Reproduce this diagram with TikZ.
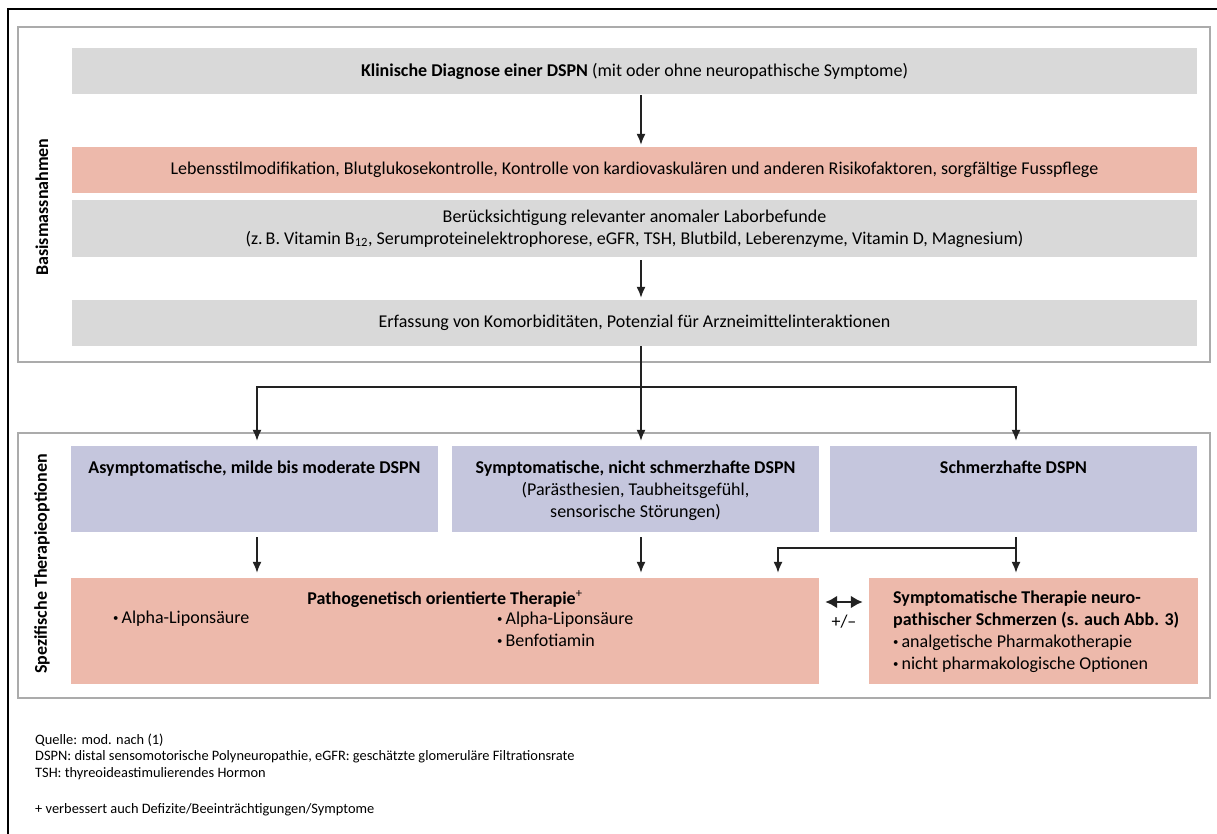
\documentclass[tikz,border=0pt]{standalone}
\usepackage{fontspec}
\setmainfont{Carlito}
\usetikzlibrary{positioning,arrows.meta,calc}
\definecolor{graufill}{HTML}{D9D9D9}
\definecolor{lachs}{HTML}{EDB9AB}
\definecolor{lila}{HTML}{C5C6DD}
\definecolor{rahmen}{HTML}{ABABAB}
\definecolor{pfeil}{HTML}{222222}
\newcommand{\pkt}{\raisebox{0.12em}{\scalebox{0.6}{\textbullet}}\,}

\begin{document}
\begin{tikzpicture}[x=1pt,y=-1pt,>={Latex[length=11pt,width=9pt]},
      font=\fontsize{18}{22}\selectfont,
      grau/.style={fill=graufill,minimum width=1125pt,minimum height=46pt,inner sep=0pt,align=center},
      lilabox/.style={fill=lila,minimum width=367pt,minimum height=86pt,inner sep=0pt},
      lachsbox/.style={fill=lachs,minimum height=106pt,inner sep=0pt},
      frame/.style={draw=rahmen,line width=2pt},
      seite/.style={rotate=90,font=\fontsize{18}{22}\selectfont\bfseries},
      titel/.style={anchor=north,align=center,inner sep=0pt},
      fuss/.style={anchor=west,inner sep=0pt,font=\fontsize{14.4}{17}\selectfont},
      pf/.style={->,draw=pfeil,line width=1.4pt}]
      \useasboundingbox (0,0) rectangle (1217,834);
      \draw[black,line width=1.2pt] (8,834) -- (8,9) -- (1217,9);

      \draw[frame] (18,27) rectangle (1210,362);
      \draw[frame] (18,433) rectangle (1210,698);
      \node[seite] (basis) at (42,207) {Basismassnahmen};
      \node[seite] (spez) at (42,564) {Spezifische Therapieoptionen};

      \coordinate (colA) at (257,0);
      \coordinate (colB) at (641,0);
      \coordinate (colC) at (1016,0);
      \coordinate (colD) at (778,0);
      \coordinate (split) at (641,387);
      \coordinate (fork) at (1016,548);
      \coordinate (pm) at (844,602);

      \node[grau] (diag) at (634.5,71) {\textbf{Klinische Diagnose einer DSPN} (mit oder ohne neuropathische Symptome)};
      \node[grau,fill=lachs] (life) at (634.5,170) {Lebensstilmodifikation, Blutglukosekontrolle, Kontrolle von kardiovaskulären und anderen Risikofaktoren, sorgfältige Fusspflege};
      \node[grau,minimum height=57pt] (lab) at (634.5,228.5) {Berücksichtigung relevanter anomaler Laborbefunde\\(z.\,B. Vitamin B\textsubscript{12}, Serumproteinelektrophorese, eGFR, TSH, Blutbild, Leberenzyme, Vitamin D, Magnesium)};
      \node[grau] (komorb) at (634.5,323) {Erfassung von Komorbiditäten, Potenzial für Arzneimittelinteraktionen};

      \node[lilabox] (asym) at (254.5,489) {};
      \node[lilabox] (symnp) at (635.5,489) {};
      \node[lilabox] (schm) at (1013.5,489) {};
      \node[titel,below=15pt of asym.north] (asymtxt) {\textbf{Asymptomatische, milde bis moderate DSPN}};
      \node[titel,below=15pt of symnp.north] (symnptxt) {\textbf{Symptomatische, nicht schmerzhafte DSPN}\\(Parästhesien, Taubheitsgefühl,\\sensorische Störungen)};
      \node[titel,below=15pt of schm.north] (schmtxt) {\textbf{Schmerzhafte DSPN}};

      \node[lachsbox,minimum width=748pt] (patho) at (445,631) {};
      \node[lachsbox,minimum width=329pt] (symth) at (1033.5,631) {};
      \node[titel,below=13pt of patho.north] (pathotxt) {\textbf{Pathogenetisch orientierte Therapie}\textsuperscript{+}};
      \node[anchor=west,inner sep=0pt] (alaA) at (113,619) {\pkt Alpha-Liponsäure};
      \node[anchor=north west,inner sep=0pt,align=left] (alaB) at (497,612) {\pkt Alpha-Liponsäure\\\pkt Benfotiamin};
      \node[anchor=north west,inner sep=0pt,align=left] (symthtxt) at (893,591) {\textbf{Symptomatische Therapie neuro-}\\\textbf{pathischer Schmerzen (s. auch Abb. 3)}\\\pkt analgetische Pharmakotherapie\\\pkt nicht pharmakologische Optionen};

      \draw[pf,shorten <=1pt,shorten >=2pt] (diag.south -| colB) -- (colB |- life.north);
      \draw[pf,shorten <=3pt,shorten >=2pt] (lab.south -| colB) -- (colB |- komorb.north);
      \draw[draw=pfeil,line width=1.4pt] (komorb.south -| split) -- (split);
      \draw[pf,shorten >=5pt] (split) -| (colA |- asym.north);
      \draw[pf,shorten >=5pt] (split) -- (colB |- symnp.north);
      \draw[pf,shorten >=5pt] (split) -| (colC |- schm.north);
      \draw[pf,shorten <=5pt,shorten >=5pt] (asym.south -| colA) -- (colA |- patho.north);
      \draw[pf,shorten <=5pt,shorten >=5pt] (symnp.south -| colB) -- (colB |- patho.north);
      \draw[pf,shorten <=5pt,shorten >=5pt] (schm.south -| colC) -- (colC |- symth.north);
      \draw[pf,shorten >=5pt] (fork) -| (colD |- patho.north);
      \draw[<->,draw=pfeil,line width=2.4pt,>={Latex[length=12pt,width=13pt]},shorten <=6pt,shorten >=6pt]
        (patho.east |- pm) -- node[below=8pt,font=\fontsize{18}{18}\selectfont] (pmtxt) {+/\textendash} (symth.west |- pm);

      \node[fuss] (quelle) at (35,740) {Quelle: mod. nach (1)};
      \node[fuss] (abk1) at (35,757) {DSPN: distal sensomotorische Polyneuropathie, eGFR: geschätzte glomeruläre Filtrationsrate};
      \node[fuss] (abk2) at (35,774) {TSH: thyreoideastimulierendes Hormon};
      \node[fuss] (plus) at (35,810) {+ verbessert auch Defizite/Beeinträchtigungen/Symptome};
     \end{tikzpicture}
\end{document}
